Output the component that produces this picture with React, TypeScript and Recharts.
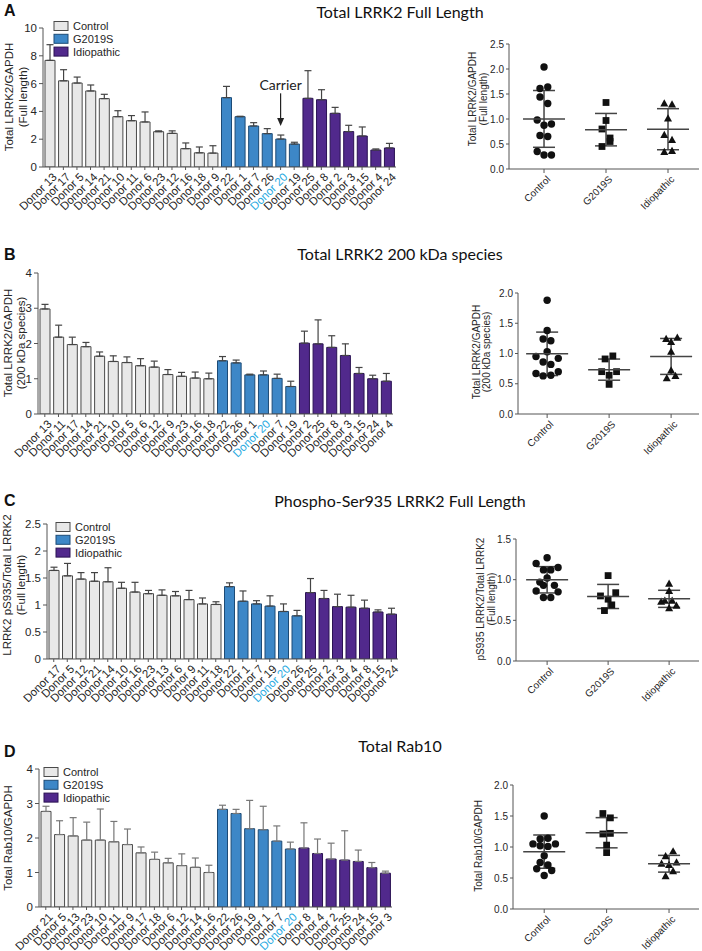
import React from 'react';
import {
  BarChart,
  Bar,
  XAxis,
  YAxis,
  Cell,
  ErrorBar,
  ReferenceLine,
  ScatterChart,
  Scatter,
} from 'recharts';

const SANS = '"Liberation Sans", Arial, Helvetica, sans-serif';
const TITLE = 'Lato, "Open Sans", sans-serif';
const INK = '#262626';
const AXIS = '#555';

const groupNames = ['Control', 'G2019S', 'Idiopathic'];
const groupFill = ['#e8e8e8', '#3d87c7', '#51298c'];
const groupStroke = ['#4a4a4a', '#1d4b76', '#2a1253'];
const carrierDonor = 'Donor 20';

// bar order in every panel: 13 control, 6 G2019S, 7 idiopathic
const barGroups = [0, 0, 0, 0, 0, 0, 0, 0, 0, 0, 0, 0, 0, 1, 1, 1, 1, 1, 1, 2, 2, 2, 2, 2, 2, 2];

// A - total LRRK2 full length
const donorsA = ['Donor 13', 'Donor 17', 'Donor 5', 'Donor 14', 'Donor 21', 'Donor 10', 'Donor 11', 'Donor 6', 'Donor 23', 'Donor 12', 'Donor 16', 'Donor 18', 'Donor 9', 'Donor 22', 'Donor 1', 'Donor 7', 'Donor 26', 'Donor 20', 'Donor 19', 'Donor 25', 'Donor 8', 'Donor 2', 'Donor 3', 'Donor 15', 'Donor 4', 'Donor 24'];
const valuesA = [7.67, 6.2, 6.04, 5.47, 4.92, 3.62, 3.33, 3.24, 2.54, 2.42, 1.32, 1.02, 1.0, 4.99, 3.62, 2.95, 2.4, 2.01, 1.65, 4.94, 4.84, 3.86, 2.55, 2.23, 1.22, 1.37];
const semA = [1.13, 0.8, 0.43, 0.43, 0.31, 0.43, 0.37, 0.72, 0.06, 0.18, 0.41, 0.42, 0.53, 0.81, 0.03, 0.24, 0.36, 0.29, 0.13, 1.99, 0.72, 0.43, 0.45, 0.65, 0.08, 0.33];
const ctrlA = [2.04, 1.61, 1.64, 1.44, 1.31, 0.98, 0.875, 0.9, 0.67, 0.65, 0.35, 0.28, 0.28];
const ctrlJitA = [0, -0.065, 0.06, -0.065, 0.06, -0.11, 0, 0.12, -0.065, 0.06, -0.11, 0, 0.12];
const g2019A = [1.33, 0.97, 0.8, 0.62, 0.55, 0.45];
const g2019JitA = [0, 0, -0.065, 0.065, 0.065, -0.065];
const idioA = [1.31, 1.29, 1.01, 0.68, 0.58, 0.34, 0.36];
const idioJitA = [-0.06, 0.065, 0, -0.06, 0.065, -0.06, 0.065];

// B - total LRRK2 200 kDa species
const donorsB = ['Donor 13', 'Donor 11', 'Donor 17', 'Donor 14', 'Donor 21', 'Donor 10', 'Donor 5', 'Donor 6', 'Donor 12', 'Donor 9', 'Donor 23', 'Donor 16', 'Donor 18', 'Donor 22', 'Donor 26', 'Donor 1', 'Donor 20', 'Donor 7', 'Donor 19', 'Donor 2', 'Donor 25', 'Donor 8', 'Donor 3', 'Donor 15', 'Donor 24', 'Donor 4'];
const valuesB = [2.98, 2.18, 1.97, 1.91, 1.64, 1.49, 1.46, 1.37, 1.33, 1.12, 1.07, 1.02, 1.0, 1.51, 1.45, 1.11, 1.11, 1.01, 0.78, 2.01, 1.99, 1.89, 1.66, 1.15, 1.0, 0.93];
const semB = [0.13, 0.34, 0.21, 0.12, 0.12, 0.16, 0.16, 0.2, 0.17, 0.14, 0.11, 0.17, 0.16, 0.12, 0.08, 0.02, 0.11, 0.12, 0.15, 0.34, 0.68, 0.33, 0.33, 0.17, 0.1, 0.22];
const ctrlB = [1.88, 1.38, 1.24, 1.21, 1.03, 0.95, 0.92, 0.86, 0.82, 0.67, 0.7, 0.63, 0.64];
const ctrlJitB = [0, 0, -0.065, 0.06, 0, -0.18, 0.18, -0.065, 0.06, -0.18, 0.18, -0.065, 0.06];
const g2019B = [0.91, 0.96, 0.7, 0.7, 0.64, 0.49];
const g2019JitB = [-0.065, 0.06, -0.12, 0.12, 0, 0];
const idioB = [1.24, 1.26, 1.19, 1.03, 0.72, 0.59, 0.63];
const idioJitB = [-0.08, 0.1, 0, 0, 0, -0.07, 0.07];

// C - phospho-Ser935 LRRK2 full length
const donorsC = ['Donor 17', 'Donor 5', 'Donor 12', 'Donor 21', 'Donor 14', 'Donor 10', 'Donor 16', 'Donor 23', 'Donor 13', 'Donor 6', 'Donor 9', 'Donor 11', 'Donor 18', 'Donor 22', 'Donor 1', 'Donor 7', 'Donor 19', 'Donor 20', 'Donor 26', 'Donor 25', 'Donor 2', 'Donor 3', 'Donor 4', 'Donor 8', 'Donor 15', 'Donor 24'];
const valuesC = [1.64, 1.54, 1.48, 1.44, 1.43, 1.31, 1.24, 1.21, 1.18, 1.17, 1.1, 1.02, 1.01, 1.34, 1.07, 1.02, 0.98, 0.88, 0.8, 1.23, 1.12, 0.97, 0.96, 0.94, 0.87, 0.83];
const semC = [0.06, 0.23, 0.12, 0.16, 0.26, 0.11, 0.18, 0.06, 0.1, 0.08, 0.17, 0.11, 0.05, 0.07, 0.19, 0.06, 0.19, 0.14, 0.1, 0.26, 0.15, 0.23, 0.22, 0.15, 0.04, 0.11];
const ctrlC = [1.27, 1.2, 1.15, 1.12, 1.12, 1.02, 0.97, 0.93, 0.93, 0.86, 0.85, 0.78, 0.78];
const ctrlJitC = [0, -0.18, 0.18, -0.06, 0.06, 0, -0.12, 0.12, -0.06, -0.18, 0.18, -0.06, 0.06];
const g2019C = [1.05, 0.8, 0.84, 0.76, 0.69, 0.62];
const g2019JitC = [0, -0.125, 0.125, 0, 0.06, -0.06];
const idioC = [0.95, 0.86, 0.73, 0.74, 0.74, 0.68, 0.65];
const idioJitC = [0, 0, -0.13, -0.07, 0.05, 0.12, 0];

// D - total Rab10
const donorsD = ['Donor 21', 'Donor 5', 'Donor 13', 'Donor 23', 'Donor 10', 'Donor 11', 'Donor 9', 'Donor 17', 'Donor 18', 'Donor 6', 'Donor 12', 'Donor 14', 'Donor 16', 'Donor 22', 'Donor 26', 'Donor 19', 'Donor 1', 'Donor 7', 'Donor 20', 'Donor 8', 'Donor 4', 'Donor 2', 'Donor 25', 'Donor 24', 'Donor 15', 'Donor 3'];
const valuesD = [2.77, 2.1, 2.06, 1.94, 1.94, 1.89, 1.81, 1.57, 1.38, 1.28, 1.2, 1.15, 1.0, 2.83, 2.71, 2.27, 2.24, 1.91, 1.68, 1.71, 1.55, 1.39, 1.36, 1.32, 1.14, 0.98];
const semD = [0.15, 0.4, 0.53, 0.52, 0.9, 0.59, 0.45, 0.17, 0.21, 0.13, 0.34, 0.27, 0.21, 0.12, 0.12, 0.82, 0.68, 0.44, 0.2, 0.73, 0.42, 0.46, 0.85, 0.33, 0.15, 0.06];
const ctrlD = [1.5, 1.13, 1.14, 1.05, 1.02, 1.01, 1.05, 0.86, 0.75, 0.71, 0.65, 0.62, 0.54];
const ctrlJitD = [0, -0.065, 0.06, -0.18, -0.065, 0.06, 0.18, 0, -0.065, 0.06, -0.12, 0.12, 0];
const g2019D = [1.54, 1.47, 1.21, 1.22, 1.03, 0.91];
const g2019JitD = [-0.06, 0.06, -0.06, 0.06, 0, 0];
const idioD = [0.93, 0.85, 0.73, 0.71, 0.75, 0.61, 0.53];
const idioJitD = [0.065, -0.055, -0.12, 0, 0.12, 0.065, -0.055];

const mean = (a: number[]) => a.reduce((s, v) => s + v, 0) / a.length;
const sd = (a: number[]) => {
  const m = mean(a);
  return Math.sqrt(a.reduce((s, v) => s + (v - m) ** 2, 0) / (a.length - 1));
};

type Plot = { x0: number; y0: number; x1: number; y1: number };

function DonorTick(props: any) {
  const { x, y, payload } = props;
  return (
    <g transform={`translate(${x + 2},${y})`}>
      <text x={0} y={0} dy={8} textAnchor="end" transform="rotate(-45)" fontSize={11.5} fontFamily={SANS}
        fill={payload.value === carrierDonor ? '#29aae1' : INK}>
        {payload.value}
      </text>
    </g>
  );
}

function GroupTick(props: any) {
  const { x, y, payload } = props;
  return (
    <g transform={`translate(${x + 2},${y})`}>
      <text x={0} y={0} dy={7} textAnchor="end" transform="rotate(-45)" fontSize={10} fontFamily={SANS} fill={INK}>
        {groupNames[payload.value]}
      </text>
    </g>
  );
}

function CarrierArrow(props: any) {
  const { x1, y1, x2, y2 } = props;
  return (
    <g>
      <line x1={x1} y1={y1} x2={x2} y2={y2 - 6} stroke="#222" strokeWidth={1.2} />
      <path d={`M${x2 - 3.5},${y2 - 8} L${x2 + 3.5},${y2 - 8} L${x2},${y2} Z`} fill="#222" />
      <text x={x1} y={y1 - 3} textAnchor="middle" fontSize={14} fontFamily={TITLE} fill="#222">Carrier</text>
    </g>
  );
}

function DonorBars({ plot, donors, values, sem, yMax, yTicks, errColor, carrier }: {
  plot: Plot; donors: string[]; values: number[]; sem: number[]; yMax: number; yTicks: number[];
  errColor: string; carrier?: { from: number; to: number };
}) {
  const data = donors.map((d, i) => ({ donor: d, value: values[i], err: [0, sem[i]], group: barGroups[i] }));
  const PAD = 6;
  const XH = 70;
  return (
    <div style={{ position: 'absolute', left: 0, top: plot.y0 - PAD }}>
      <BarChart width={plot.x1 + PAD} height={plot.y1 - plot.y0 + PAD + XH} data={data}
        margin={{ top: PAD, right: PAD, left: 0, bottom: 0 }} barSize={10}>
        <XAxis dataKey="donor" interval={0} height={XH} tick={<DonorTick />} tickSize={3}
          axisLine={{ stroke: AXIS }} tickLine={{ stroke: AXIS }} />
        <YAxis width={plot.x0} domain={[0, yMax]} ticks={yTicks} tickSize={4} allowDataOverflow
          axisLine={{ stroke: AXIS }} tickLine={{ stroke: AXIS }}
          tick={{ fontSize: 11.5, fill: INK, fontFamily: SANS }} />
        <Bar dataKey="value" isAnimationActive={false} strokeWidth={1}>
          {data.map((d, i) => (
            <Cell key={i} fill={groupFill[d.group]} stroke={groupStroke[d.group]} />
          ))}
          <ErrorBar dataKey="err" direction="y" width={3.5} stroke={errColor} strokeWidth={1.2} />
        </Bar>
        {carrier && (
          <ReferenceLine segment={[{ x: carrierDonor, y: carrier.from }, { x: carrierDonor, y: carrier.to }]}
            shape={CarrierArrow} ifOverflow="visible" />
        )}
      </BarChart>
    </div>
  );
}

// GraphPad-style markers: circle, square, triangle
function Marker(kind: number) {
  return (props: any) => {
    const { cx, cy } = props;
    if (kind === 0) return <circle cx={cx} cy={cy} r={3.7} fill="#111" />;
    if (kind === 1) return <rect x={cx - 3.4} y={cy - 3.4} width={6.8} height={6.8} fill="#111" />;
    return <path d={`M${cx},${cy - 4.2} L${cx + 4},${cy + 3} L${cx - 4},${cy + 3} Z`} fill="#111" />;
  };
}

function MeanMark(props: any) {
  const { cx, cy } = props;
  return <line x1={cx - 21} x2={cx + 21} y1={cy} y2={cy} stroke="#444" strokeWidth={1.5} />;
}

function GroupScatter({ plot, xDomain, yMax, yTicks, groups }: {
  plot: Plot; xDomain: [number, number]; yMax: number; yTicks: number[];
  groups: { values: number[]; jitter: number[] }[];
}) {
  const points = groups.map((g, gi) => g.values.map((v, i) => ({ x: gi + g.jitter[i], y: v })));
  const summary = groups.map((g, gi) => ({ x: gi, y: mean(g.values), sd: sd(g.values) }));
  const PAD = 6;
  const XH = 60;
  return (
    <div style={{ position: 'absolute', left: 0, top: plot.y0 - PAD }}>
      <ScatterChart width={plot.x1 + 3} height={plot.y1 - plot.y0 + PAD + XH}
        margin={{ top: PAD, right: 3, left: 0, bottom: 0 }}>
        <XAxis type="number" dataKey="x" domain={xDomain} ticks={[0, 1, 2]} allowDataOverflow height={XH}
          tick={<GroupTick />} tickSize={4} axisLine={{ stroke: AXIS }} tickLine={{ stroke: AXIS }} />
        <YAxis type="number" dataKey="y" domain={[0, yMax]} ticks={yTicks} width={plot.x0} allowDataOverflow
          tickFormatter={(v: number) => v.toFixed(1)} tickSize={3}
          axisLine={{ stroke: AXIS }} tickLine={{ stroke: AXIS }}
          tick={{ fontSize: 10, fill: INK, fontFamily: SANS }} />
        {points.map((pts, gi) => (
          <Scatter key={gi} data={pts} shape={Marker(gi)} isAnimationActive={false} />
        ))}
        <Scatter data={summary} shape={<MeanMark />} isAnimationActive={false}>
          <ErrorBar dataKey="sd" direction="y" width={11} stroke="#444" strokeWidth={1.5} />
        </Scatter>
      </ScatterChart>
    </div>
  );
}

function VLabel({ x, y, text, size }: { x: number; y: number; text: string; size: number }) {
  return (
    <text x={x} y={y} transform={`rotate(-90 ${x} ${y})`} textAnchor="middle" dominantBaseline="central"
      fontSize={size} fontFamily={SANS} fill={INK}>
      {text}
    </text>
  );
}

function Legend({ x, y }: { x: number; y: number }) {
  return (
    <g>
      {groupNames.map((g, i) => (
        <g key={g}>
          <rect x={x} y={y + i * 12.8 - 4.5} width={14} height={9} fill={groupFill[i]} stroke={groupStroke[i]} />
          <text x={x + 19} y={y + i * 12.8} dominantBaseline="central" fontSize={11} fontFamily={SANS} fill={INK}>{g}</text>
        </g>
      ))}
    </g>
  );
}

const titles = [
  { letter: 'A', title: 'Total LRRK2 Full Length', y: 11, ly: 10 },
  { letter: 'B', title: 'Total LRRK2 200 kDa species', y: 253, ly: 254 },
  { letter: 'C', title: 'Phospho-Ser935 LRRK2 Full Length', y: 500, ly: 500 },
  { letter: 'D', title: 'Total Rab10', y: 745, ly: 751 },
];

export default function App() {
  return (
    <div style={{ position: 'absolute', left: 0, top: 0, width: 702, height: 951, background: '#fff' }}>
      <DonorBars plot={{ x0: 43, y0: 28, x1: 396, y1: 167 }} donors={donorsA} values={valuesA} sem={semA}
        yMax={10} yTicks={[0, 2, 4, 6, 8, 10]} errColor="#444" carrier={{ from: 5.3, to: 2.95 }} />
      <DonorBars plot={{ x0: 38, y0: 273, x1: 393, y1: 414 }} donors={donorsB} values={valuesB} sem={semB}
        yMax={4} yTicks={[0, 1, 2, 3, 4]} errColor="#444" />
      <DonorBars plot={{ x0: 47, y0: 524, x1: 398, y1: 659 }} donors={donorsC} values={valuesC} sem={semC}
        yMax={2.5} yTicks={[0, 0.5, 1, 1.5, 2, 2.5]} errColor="#444" />
      <DonorBars plot={{ x0: 39, y0: 769, x1: 392, y1: 907 }} donors={donorsD} values={valuesD} sem={semD}
        yMax={4} yTicks={[0, 1, 2, 3, 4]} errColor="#777" />

      <GroupScatter plot={{ x0: 509, y0: 44, x1: 699, y1: 169 }} xDomain={[-0.565, 2.5]} yMax={2.5}
        yTicks={[0, 0.5, 1, 1.5, 2, 2.5]}
        groups={[{ values: ctrlA, jitter: ctrlJitA }, { values: g2019A, jitter: g2019JitA }, { values: idioA, jitter: idioJitA }]} />
      <GroupScatter plot={{ x0: 518, y0: 293, x1: 699, y1: 414 }} xDomain={[-0.47, 2.45]} yMax={2}
        yTicks={[0, 0.5, 1, 1.5, 2]}
        groups={[{ values: ctrlB, jitter: ctrlJitB }, { values: g2019B, jitter: g2019JitB }, { values: idioB, jitter: idioJitB }]} />
      <GroupScatter plot={{ x0: 516, y0: 539, x1: 699, y1: 661 }} xDomain={[-0.51, 2.49]} yMax={1.5}
        yTicks={[0, 0.5, 1, 1.5]}
        groups={[{ values: ctrlC, jitter: ctrlJitC }, { values: g2019C, jitter: g2019JitC }, { values: idioC, jitter: idioJitC }]} />
      <GroupScatter plot={{ x0: 513, y0: 785, x1: 699, y1: 909 }} xDomain={[-0.5, 2.48]} yMax={2}
        yTicks={[0, 0.5, 1, 1.5, 2]}
        groups={[{ values: ctrlD, jitter: ctrlJitD }, { values: g2019D, jitter: g2019JitD }, { values: idioD, jitter: idioJitD }]} />

      <svg width={702} height={951} style={{ position: 'absolute', left: 0, top: 0, pointerEvents: 'none' }}>
        {titles.map((t) => (
          <g key={t.letter}>
            <text x={4} y={t.ly} dominantBaseline="central" fontSize={16} fontWeight="bold" fontFamily={SANS} fill="#111">{t.letter}</text>
            <text x={400} y={t.y} textAnchor="middle" dominantBaseline="central" fontSize={16} fontFamily={TITLE} fill="#111">{t.title}</text>
          </g>
        ))}

        <VLabel x={9} y={97} text="Total LRRK2/GAPDH" size={11.5} />
        <VLabel x={23} y={97} text="(Full length)" size={11.5} />
        <VLabel x={8} y={343} text="Total LRRK2/GAPDH" size={11.5} />
        <VLabel x={21} y={343} text="(200 kDa species)" size={11.5} />
        <VLabel x={7} y={585} text="LRRK2 pS935/Total LRRK2" size={11.5} />
        <VLabel x={21} y={585} text="(Full length)" size={11.5} />
        <VLabel x={8} y={838} text="Total Rab10/GAPDH" size={11.5} />

        <VLabel x={472} y={99} text="Total LRRK2/GAPDH" size={10} />
        <VLabel x={483} y={99} text="(Full length)" size={10} />
        <VLabel x={476} y={352} text="Total LRRK2/GAPDH" size={10} />
        <VLabel x={486} y={352} text="(200 kDa species)" size={10} />
        <VLabel x={480} y={599} text="pS935 LRRK2/Total LRRK2" size={10} />
        <VLabel x={491} y={599} text="(Full length)" size={10} />
        <VLabel x={478} y={846} text="Total Rab10/GAPDH" size={10} />

        <Legend x={54} y={26} />
        <Legend x={56} y={527} />
        <Legend x={44} y={772} />
      </svg>
    </div>
  );
}
